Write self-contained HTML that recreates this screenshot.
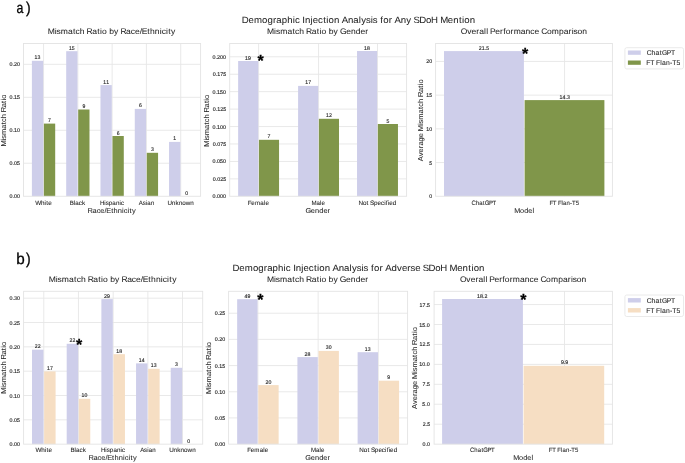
<!DOCTYPE html>
<html><head><meta charset="utf-8"><title>Demographic Injection Analysis</title>
<style>html,body{margin:0;padding:0;background:#fff;}svg{display:block;}text{font-family:"Liberation Sans",sans-serif;font-kerning:none;text-rendering:geometricPrecision}.s,.m,.l{stroke:#262626}.s{stroke-width:0.14px}.m{stroke-width:0.08px}.l{stroke-width:0.05px}</style>
</head><body>
<svg width="685" height="463" viewBox="0 0 685 463" font-family="Liberation Sans, sans-serif">
<rect width="685" height="463" fill="#fff"/>
<defs><filter id="soft" x="0" y="0" width="685" height="463" filterUnits="userSpaceOnUse"><feGaussianBlur stdDeviation="0.4"/></filter></defs>
<line x1="23.50" y1="163.26" x2="200.60" y2="163.26" stroke="#E6E6E6" stroke-width="0.9"/>
<line x1="23.50" y1="130.28" x2="200.60" y2="130.28" stroke="#E6E6E6" stroke-width="0.9"/>
<line x1="23.50" y1="97.30" x2="200.60" y2="97.30" stroke="#E6E6E6" stroke-width="0.9"/>
<line x1="23.50" y1="64.31" x2="200.60" y2="64.31" stroke="#E6E6E6" stroke-width="0.9"/>
<line x1="43.55" y1="43.50" x2="43.55" y2="196.25" stroke="#E6E6E6" stroke-width="0.9"/>
<line x1="77.84" y1="43.50" x2="77.84" y2="196.25" stroke="#E6E6E6" stroke-width="0.9"/>
<line x1="112.13" y1="43.50" x2="112.13" y2="196.25" stroke="#E6E6E6" stroke-width="0.9"/>
<line x1="146.42" y1="43.50" x2="146.42" y2="196.25" stroke="#E6E6E6" stroke-width="0.9"/>
<line x1="180.71" y1="43.50" x2="180.71" y2="196.25" stroke="#E6E6E6" stroke-width="0.9"/>
<rect x="31.90" y="60.80" width="11.30" height="135.45" fill="#CECEEA"/>
<rect x="43.90" y="123.60" width="11.30" height="72.65" fill="#80964A"/>
<rect x="66.19" y="51.20" width="11.30" height="145.05" fill="#CECEEA"/>
<rect x="78.19" y="109.50" width="11.30" height="86.75" fill="#80964A"/>
<rect x="100.48" y="85.10" width="11.30" height="111.15" fill="#CECEEA"/>
<rect x="112.48" y="136.00" width="11.30" height="60.25" fill="#80964A"/>
<rect x="134.77" y="108.90" width="11.30" height="87.35" fill="#CECEEA"/>
<rect x="146.77" y="152.80" width="11.30" height="43.45" fill="#80964A"/>
<rect x="169.06" y="141.90" width="11.30" height="54.35" fill="#CECEEA"/>
<rect x="23.50" y="43.50" width="177.10" height="152.75" fill="none" stroke="#E3E3E3" stroke-width="0.9"/>
<line x1="229.70" y1="178.86" x2="406.60" y2="178.86" stroke="#E6E6E6" stroke-width="0.9"/>
<line x1="229.70" y1="161.43" x2="406.60" y2="161.43" stroke="#E6E6E6" stroke-width="0.9"/>
<line x1="229.70" y1="143.99" x2="406.60" y2="143.99" stroke="#E6E6E6" stroke-width="0.9"/>
<line x1="229.70" y1="126.55" x2="406.60" y2="126.55" stroke="#E6E6E6" stroke-width="0.9"/>
<line x1="229.70" y1="109.11" x2="406.60" y2="109.11" stroke="#E6E6E6" stroke-width="0.9"/>
<line x1="229.70" y1="91.67" x2="406.60" y2="91.67" stroke="#E6E6E6" stroke-width="0.9"/>
<line x1="229.70" y1="74.24" x2="406.60" y2="74.24" stroke="#E6E6E6" stroke-width="0.9"/>
<line x1="229.70" y1="56.80" x2="406.60" y2="56.80" stroke="#E6E6E6" stroke-width="0.9"/>
<line x1="258.60" y1="43.50" x2="258.60" y2="196.25" stroke="#E6E6E6" stroke-width="0.9"/>
<line x1="318.55" y1="43.50" x2="318.55" y2="196.25" stroke="#E6E6E6" stroke-width="0.9"/>
<line x1="377.50" y1="43.50" x2="377.50" y2="196.25" stroke="#E6E6E6" stroke-width="0.9"/>
<rect x="238.14" y="61.00" width="20.11" height="135.25" fill="#CECEEA"/>
<rect x="258.95" y="139.80" width="20.11" height="56.45" fill="#80964A"/>
<rect x="298.09" y="85.90" width="20.11" height="110.35" fill="#CECEEA"/>
<rect x="318.90" y="118.80" width="20.11" height="77.45" fill="#80964A"/>
<rect x="357.04" y="51.00" width="20.11" height="145.25" fill="#CECEEA"/>
<rect x="377.85" y="124.00" width="20.11" height="72.25" fill="#80964A"/>
<rect x="229.70" y="43.50" width="176.90" height="152.75" fill="none" stroke="#E3E3E3" stroke-width="0.9"/>
<line x1="435.60" y1="162.55" x2="612.40" y2="162.55" stroke="#E6E6E6" stroke-width="0.9"/>
<line x1="435.60" y1="128.85" x2="612.40" y2="128.85" stroke="#E6E6E6" stroke-width="0.9"/>
<line x1="435.60" y1="95.15" x2="612.40" y2="95.15" stroke="#E6E6E6" stroke-width="0.9"/>
<line x1="435.60" y1="61.45" x2="612.40" y2="61.45" stroke="#E6E6E6" stroke-width="0.9"/>
<line x1="564.55" y1="43.50" x2="564.55" y2="196.25" stroke="#E6E6E6" stroke-width="0.9"/>
<rect x="444.00" y="51.10" width="79.90" height="145.15" fill="#CECEEA"/>
<rect x="524.60" y="100.10" width="79.80" height="96.15" fill="#80964A"/>
<rect x="435.60" y="43.50" width="176.80" height="152.75" fill="none" stroke="#E3E3E3" stroke-width="0.9"/>
<line x1="23.60" y1="419.82" x2="202.70" y2="419.82" stroke="#E6E6E6" stroke-width="0.9"/>
<line x1="23.60" y1="395.50" x2="202.70" y2="395.50" stroke="#E6E6E6" stroke-width="0.9"/>
<line x1="23.60" y1="371.17" x2="202.70" y2="371.17" stroke="#E6E6E6" stroke-width="0.9"/>
<line x1="23.60" y1="346.85" x2="202.70" y2="346.85" stroke="#E6E6E6" stroke-width="0.9"/>
<line x1="23.60" y1="322.52" x2="202.70" y2="322.52" stroke="#E6E6E6" stroke-width="0.9"/>
<line x1="23.60" y1="298.20" x2="202.70" y2="298.20" stroke="#E6E6E6" stroke-width="0.9"/>
<line x1="43.80" y1="291.30" x2="43.80" y2="444.15" stroke="#E6E6E6" stroke-width="0.9"/>
<line x1="78.48" y1="291.30" x2="78.48" y2="444.15" stroke="#E6E6E6" stroke-width="0.9"/>
<line x1="113.16" y1="291.30" x2="113.16" y2="444.15" stroke="#E6E6E6" stroke-width="0.9"/>
<line x1="147.84" y1="291.30" x2="147.84" y2="444.15" stroke="#E6E6E6" stroke-width="0.9"/>
<line x1="182.52" y1="291.30" x2="182.52" y2="444.15" stroke="#E6E6E6" stroke-width="0.9"/>
<rect x="32.01" y="349.70" width="11.44" height="94.45" fill="#CECEEA"/>
<rect x="44.15" y="371.40" width="11.44" height="72.75" fill="#F6DEC3"/>
<rect x="66.69" y="343.80" width="11.44" height="100.35" fill="#CECEEA"/>
<rect x="78.83" y="398.80" width="11.44" height="45.35" fill="#F6DEC3"/>
<rect x="101.37" y="299.10" width="11.44" height="145.05" fill="#CECEEA"/>
<rect x="113.51" y="354.20" width="11.44" height="89.95" fill="#F6DEC3"/>
<rect x="136.05" y="363.40" width="11.44" height="80.75" fill="#CECEEA"/>
<rect x="148.19" y="368.80" width="11.44" height="75.35" fill="#F6DEC3"/>
<rect x="170.73" y="367.80" width="11.44" height="76.35" fill="#CECEEA"/>
<rect x="23.60" y="291.30" width="179.10" height="152.85" fill="none" stroke="#E3E3E3" stroke-width="0.9"/>
<line x1="228.60" y1="417.93" x2="407.60" y2="417.93" stroke="#E6E6E6" stroke-width="0.9"/>
<line x1="228.60" y1="391.75" x2="407.60" y2="391.75" stroke="#E6E6E6" stroke-width="0.9"/>
<line x1="228.60" y1="365.58" x2="407.60" y2="365.58" stroke="#E6E6E6" stroke-width="0.9"/>
<line x1="228.60" y1="339.40" x2="407.60" y2="339.40" stroke="#E6E6E6" stroke-width="0.9"/>
<line x1="228.60" y1="313.23" x2="407.60" y2="313.23" stroke="#E6E6E6" stroke-width="0.9"/>
<line x1="257.90" y1="291.30" x2="257.90" y2="444.15" stroke="#E6E6E6" stroke-width="0.9"/>
<line x1="318.15" y1="291.30" x2="318.15" y2="444.15" stroke="#E6E6E6" stroke-width="0.9"/>
<line x1="378.35" y1="291.30" x2="378.35" y2="444.15" stroke="#E6E6E6" stroke-width="0.9"/>
<rect x="237.16" y="299.20" width="20.39" height="144.95" fill="#CECEEA"/>
<rect x="258.25" y="385.10" width="20.39" height="59.05" fill="#F6DEC3"/>
<rect x="297.41" y="357.10" width="20.39" height="87.05" fill="#CECEEA"/>
<rect x="318.50" y="350.90" width="20.39" height="93.25" fill="#F6DEC3"/>
<rect x="357.61" y="352.20" width="20.39" height="91.95" fill="#CECEEA"/>
<rect x="378.70" y="380.70" width="20.39" height="63.45" fill="#F6DEC3"/>
<rect x="228.60" y="291.30" width="179.00" height="152.85" fill="none" stroke="#E3E3E3" stroke-width="0.9"/>
<line x1="434.10" y1="424.21" x2="612.40" y2="424.21" stroke="#E6E6E6" stroke-width="0.9"/>
<line x1="434.10" y1="404.26" x2="612.40" y2="404.26" stroke="#E6E6E6" stroke-width="0.9"/>
<line x1="434.10" y1="384.32" x2="612.40" y2="384.32" stroke="#E6E6E6" stroke-width="0.9"/>
<line x1="434.10" y1="364.38" x2="612.40" y2="364.38" stroke="#E6E6E6" stroke-width="0.9"/>
<line x1="434.10" y1="344.44" x2="612.40" y2="344.44" stroke="#E6E6E6" stroke-width="0.9"/>
<line x1="434.10" y1="324.50" x2="612.40" y2="324.50" stroke="#E6E6E6" stroke-width="0.9"/>
<line x1="434.10" y1="304.55" x2="612.40" y2="304.55" stroke="#E6E6E6" stroke-width="0.9"/>
<line x1="482.80" y1="291.30" x2="482.80" y2="444.15" stroke="#E6E6E6" stroke-width="0.9"/>
<line x1="564.50" y1="291.30" x2="564.50" y2="444.15" stroke="#E6E6E6" stroke-width="0.9"/>
<rect x="442.10" y="299.00" width="80.80" height="145.15" fill="#CECEEA"/>
<rect x="523.60" y="365.80" width="80.60" height="78.35" fill="#F6DEC3"/>
<rect x="434.10" y="291.30" width="178.30" height="152.85" fill="none" stroke="#E3E3E3" stroke-width="0.9"/>
<rect x="624.9" y="47.70" width="58.6" height="21.20" rx="1.8" fill="#fff" stroke="#E4E4E4" stroke-width="0.8"/>
<rect x="627.90" y="50.50" width="12.90" height="4.30" fill="#CECEEA"/>
<rect x="627.90" y="60.50" width="12.90" height="4.30" fill="#80964A"/>
<rect x="624.9" y="295.00" width="58.6" height="21.50" rx="1.8" fill="#fff" stroke="#E4E4E4" stroke-width="0.8"/>
<rect x="627.90" y="298.10" width="12.90" height="4.40" fill="#CECEEA"/>
<rect x="627.90" y="308.10" width="12.90" height="4.40" fill="#F6DEC3"/>
<g filter="url(#soft)">
<text transform="translate(0,59.00) scale(0.953,1)" x="36.25 39.38" y="0" font-size="5.38" fill="#262626" class="s">13</text>
<text transform="translate(0,122.00) scale(0.950,1)" x="50.67" y="0" font-size="5.38" fill="#262626" class="s">7</text>
<text transform="translate(0,50.00) scale(0.950,1)" x="72.50 75.64" y="0" font-size="5.38" fill="#262626" class="s">15</text>
<text transform="translate(0,108.00) scale(0.951,1)" x="86.64" y="0" font-size="5.38" fill="#262626" class="s">9</text>
<text transform="translate(0,84.00) scale(0.950,1)" x="108.60 111.75" y="0" font-size="5.38" fill="#262626" class="s">11</text>
<text transform="translate(0,135.00) scale(0.953,1)" x="122.40" y="0" font-size="5.38" fill="#262626" class="s">6</text>
<text transform="translate(0,107.00) scale(0.953,1)" x="145.77" y="0" font-size="5.38" fill="#262626" class="s">6</text>
<text transform="translate(0,151.00) scale(0.950,1)" x="158.96" y="0" font-size="5.38" fill="#262626" class="s">3</text>
<text transform="translate(0,140.00) scale(0.950,1)" x="182.37" y="0" font-size="5.38" fill="#262626" class="s">1</text>
<text transform="translate(0,195.00) scale(0.950,1)" x="195.04" y="0" font-size="5.38" fill="#262626" class="s">0</text>
<text transform="translate(0,198.00) scale(0.980,1)" x="9.67 12.74 14.29 17.38" y="0" font-size="5.44" fill="#262626" class="s">0.00</text>
<text transform="translate(0,165.00) scale(0.971,1)" x="9.86 12.95 14.53 17.64" y="0" font-size="5.44" fill="#262626" class="s">0.05</text>
<text transform="translate(0,132.00) scale(0.980,1)" x="9.67 12.74 14.29 17.38" y="0" font-size="5.44" fill="#262626" class="s">0.10</text>
<text transform="translate(0,99.00) scale(0.971,1)" x="9.86 12.95 14.53 17.64" y="0" font-size="5.44" fill="#262626" class="s">0.15</text>
<text transform="translate(0,66.00) scale(0.980,1)" x="9.67 12.74 14.29 17.38" y="0" font-size="5.44" fill="#262626" class="s">0.20</text>
<text transform="translate(0,205.00) scale(1.011,1)" x="34.79 40.54 44.14 45.83 47.77" y="0" font-size="6.29" fill="#262626" class="m">White</text>
<text transform="translate(0,205.00) scale(0.990,1)" x="70.50 74.65 76.14 79.63 82.86" y="0" font-size="6.29" fill="#262626" class="m">Black</text>
<text transform="translate(0,205.00) scale(0.989,1)" x="101.01 105.52 106.93 110.05 113.62 117.18 120.83 122.33" y="0" font-size="6.29" fill="#262626" class="m">Hispanic</text>
<text transform="translate(0,205.00) scale(0.973,1)" x="142.61 146.63 149.82 151.35 154.97" y="0" font-size="6.29" fill="#262626" class="m">Asian</text>
<text transform="translate(0,205.00) scale(0.998,1)" x="167.77 172.15 175.77 179.02 182.55 186.08 190.71" y="0" font-size="6.29" fill="#262626" class="m">Unknown</text>
<text transform="translate(0,34.00) scale(1.061,1)" x="44.97 51.51 53.25 57.26 64.06 68.78 71.26 75.27 79.80 81.63 86.98 91.70 94.32 96.16 100.61 102.90 107.52 111.67 113.51 118.86 123.25 127.19 131.72 133.62 138.85 141.41 145.94 150.55 152.40 156.48 158.65 161.28" y="0" font-size="8.05" fill="#262626" class="l">Mismatch Ratio by Race/Ethnicity</text>
<text transform="translate(0,213.00) scale(1.057,1)" x="82.89 87.59 91.44 94.91 98.89 100.56 105.16 107.40 111.39 115.44 117.06 120.65 122.56 124.87" y="0" font-size="7.05" fill="#262626" class="l">Race/Ethnicity</text>
<text transform="rotate(-90) translate(0,5.80) scale(1.057,1)" x="-138.60 -132.83 -131.29 -127.75 -121.75 -117.59 -115.40 -111.86 -107.87 -106.24 -101.52 -97.36 -95.05 -93.42" y="0" font-size="7.08" fill="#262626" class="l">Mismatch Ratio</text>
<text transform="translate(0,60.00) scale(0.965,1)" x="253.97 257.07" y="0" font-size="5.38" fill="#262626" class="s">19</text>
<text transform="translate(0,138.00) scale(0.950,1)" x="281.67" y="0" font-size="5.38" fill="#262626" class="s">7</text>
<text transform="translate(0,84.00) scale(0.955,1)" x="319.62 322.75" y="0" font-size="5.38" fill="#262626" class="s">17</text>
<text transform="translate(0,117.00) scale(0.950,1)" x="343.17 346.32" y="0" font-size="5.38" fill="#262626" class="s">12</text>
<text transform="translate(0,50.00) scale(0.963,1)" x="377.95 381.05" y="0" font-size="5.38" fill="#262626" class="s">18</text>
<text transform="translate(0,123.00) scale(0.950,1)" x="406.85" y="0" font-size="5.38" fill="#262626" class="s">5</text>
<text transform="translate(0,198.00) scale(0.984,1)" x="215.95 219.01 220.56 223.63 226.70" y="0" font-size="5.44" fill="#262626" class="s">0.000</text>
<text transform="translate(0,181.00) scale(0.978,1)" x="217.47 220.55 222.11 225.20 228.29" y="0" font-size="5.44" fill="#262626" class="s">0.025</text>
<text transform="translate(0,163.00) scale(0.984,1)" x="215.95 219.01 220.56 223.63 226.70" y="0" font-size="5.44" fill="#262626" class="s">0.050</text>
<text transform="translate(0,146.00) scale(0.978,1)" x="217.47 220.55 222.11 225.20 228.29" y="0" font-size="5.44" fill="#262626" class="s">0.075</text>
<text transform="translate(0,129.00) scale(0.984,1)" x="215.95 219.01 220.56 223.63 226.70" y="0" font-size="5.44" fill="#262626" class="s">0.100</text>
<text transform="translate(0,111.00) scale(0.978,1)" x="217.47 220.55 222.11 225.20 228.29" y="0" font-size="5.44" fill="#262626" class="s">0.125</text>
<text transform="translate(0,94.00) scale(0.984,1)" x="215.95 219.01 220.56 223.63 226.70" y="0" font-size="5.44" fill="#262626" class="s">0.150</text>
<text transform="translate(0,76.00) scale(0.978,1)" x="217.47 220.55 222.11 225.20 228.29" y="0" font-size="5.44" fill="#262626" class="s">0.175</text>
<text transform="translate(0,59.00) scale(0.984,1)" x="215.95 219.01 220.56 223.63 226.70" y="0" font-size="5.44" fill="#262626" class="s">0.200</text>
<text transform="translate(0,205.00) scale(0.986,1)" x="251.36 254.95 258.63 264.05 267.65 269.16" y="0" font-size="6.29" fill="#262626" class="m">Female</text>
<text transform="translate(0,205.00) scale(0.976,1)" x="319.13 324.27 327.90 329.43" y="0" font-size="6.29" fill="#262626" class="m">Male</text>
<text transform="translate(0,205.00) scale(1.003,1)" x="357.45 361.81 365.51 367.51 368.97 372.89 376.41 379.87 383.08 384.68 386.63 388.09 391.61" y="0" font-size="6.29" fill="#262626" class="m">Not Specified</text>
<text transform="translate(0,34.00) scale(1.060,1)" x="252.01 258.56 260.31 264.33 271.13 275.86 278.34 282.36 286.89 288.74 294.09 298.82 301.45 303.29 307.75 310.04 314.67 318.82 320.73 326.61 331.09 335.63 340.12 344.70" y="0" font-size="8.05" fill="#262626" class="l">Mismatch Ratio by Gender</text>
<text transform="translate(0,213.00) scale(1.048,1)" x="291.43 296.63 300.59 304.61 308.58 312.62" y="0" font-size="7.05" fill="#262626" class="l">Gender</text>
<text transform="rotate(-90) translate(0,209.20) scale(1.057,1)" x="-138.79 -133.02 -131.48 -127.94 -121.94 -117.78 -115.59 -112.05 -108.06 -106.43 -101.71 -97.55 -95.24 -93.61" y="0" font-size="7.08" fill="#262626" class="l">Mismatch Ratio</text>
<text transform="translate(257.47,65.93) scale(1.0,1)" font-size="16.0" font-weight="bold" fill="#000" stroke="#000" stroke-width="0.25">*</text>
<text transform="translate(0,50.00) scale(0.974,1)" x="491.65 494.73 497.78 499.33" y="0" font-size="5.38" fill="#262626" class="s">21.5</text>
<text transform="translate(0,99.00) scale(0.975,1)" x="573.84 576.91 579.95 581.51" y="0" font-size="5.38" fill="#262626" class="s">14.3</text>
<text transform="translate(0,198.00) scale(0.950,1)" x="451.76" y="0" font-size="5.44" fill="#262626" class="s">0</text>
<text transform="translate(0,165.00) scale(0.950,1)" x="451.86" y="0" font-size="5.44" fill="#262626" class="s">5</text>
<text transform="translate(0,131.00) scale(0.961,1)" x="443.55 446.70" y="0" font-size="5.44" fill="#262626" class="s">10</text>
<text transform="translate(0,97.00) scale(0.950,1)" x="448.68 451.86" y="0" font-size="5.44" fill="#262626" class="s">15</text>
<text transform="translate(0,63.00) scale(0.968,1)" x="440.34 443.47" y="0" font-size="5.44" fill="#262626" class="s">20</text>
<text transform="translate(0,205.00) scale(0.950,1)" x="496.24 500.72 504.43 508.29 510.19 514.64 518.42" y="0" font-size="6.29" fill="#262626" class="m">ChatGPT</text>
<text transform="translate(0,205.00) scale(0.950,1)" x="578.37 581.89 585.70 587.31 591.07 592.67 596.37 600.03 602.05 605.93" y="0" font-size="6.29" fill="#262626" class="m">FT Flan-T5</text>
<text transform="translate(0,34.00) scale(1.054,1)" x="437.14 443.23 447.36 451.96 454.75 459.31 461.31 463.23 464.99 469.83 474.42 477.40 479.75 484.34 487.32 494.16 498.65 503.15 507.12 511.60 513.48 518.87 523.47 530.39 534.89 539.48 542.41 544.17 548.03 552.52" y="0" font-size="8.05" fill="#262626" class="l">Overall Performance Comparison</text>
<text transform="translate(0,213.00) scale(1.030,1)" x="499.17 504.90 508.93 512.96 517.02" y="0" font-size="7.05" fill="#262626" class="l">Model</text>
<text transform="rotate(-90) translate(0,423.00) scale(1.057,1)" x="-152.45 -147.83 -144.21 -140.18 -137.73 -133.79 -129.84 -125.91 -124.14 -118.38 -116.84 -113.29 -107.30 -103.14 -100.95 -97.41 -93.41 -91.79 -87.07 -82.91 -80.59 -78.96" y="0" font-size="7.08" fill="#262626" class="l">Average Mismatch Ratio</text>
<text transform="translate(522.02,58.88) scale(1.0,1)" font-size="16.0" font-weight="bold" fill="#000" stroke="#000" stroke-width="0.25">*</text>
<text transform="translate(0,348.00) scale(0.950,1)" x="36.71 39.86" y="0" font-size="5.38" fill="#262626" class="s">22</text>
<text transform="translate(0,370.00) scale(0.955,1)" x="49.11 52.24" y="0" font-size="5.38" fill="#262626" class="s">17</text>
<text transform="translate(0,342.00) scale(0.950,1)" x="73.22 76.37" y="0" font-size="5.38" fill="#262626" class="s">22</text>
<text transform="translate(0,397.00) scale(0.961,1)" x="84.85 87.96" y="0" font-size="5.38" fill="#262626" class="s">10</text>
<text transform="translate(0,298.00) scale(0.972,1)" x="107.11 110.18" y="0" font-size="5.38" fill="#262626" class="s">29</text>
<text transform="translate(0,353.00) scale(0.963,1)" x="120.63 123.73" y="0" font-size="5.38" fill="#262626" class="s">18</text>
<text transform="translate(0,362.00) scale(0.960,1)" x="144.45 147.56" y="0" font-size="5.38" fill="#262626" class="s">14</text>
<text transform="translate(0,367.00) scale(0.953,1)" x="158.29 161.43" y="0" font-size="5.38" fill="#262626" class="s">13</text>
<text transform="translate(0,366.00) scale(0.950,1)" x="184.25" y="0" font-size="5.38" fill="#262626" class="s">3</text>
<text transform="translate(0,443.00) scale(0.950,1)" x="197.02" y="0" font-size="5.38" fill="#262626" class="s">0</text>
<text transform="translate(0,446.00) scale(0.980,1)" x="9.67 12.74 14.29 17.38" y="0" font-size="5.44" fill="#262626" class="s">0.00</text>
<text transform="translate(0,422.00) scale(0.971,1)" x="9.86 12.95 14.53 17.64" y="0" font-size="5.44" fill="#262626" class="s">0.05</text>
<text transform="translate(0,398.00) scale(0.980,1)" x="9.67 12.74 14.29 17.38" y="0" font-size="5.44" fill="#262626" class="s">0.10</text>
<text transform="translate(0,373.00) scale(0.971,1)" x="9.86 12.95 14.53 17.64" y="0" font-size="5.44" fill="#262626" class="s">0.15</text>
<text transform="translate(0,349.00) scale(0.980,1)" x="9.67 12.74 14.29 17.38" y="0" font-size="5.44" fill="#262626" class="s">0.20</text>
<text transform="translate(0,325.00) scale(0.971,1)" x="9.86 12.95 14.53 17.64" y="0" font-size="5.44" fill="#262626" class="s">0.25</text>
<text transform="translate(0,300.00) scale(0.980,1)" x="9.67 12.74 14.29 17.38" y="0" font-size="5.44" fill="#262626" class="s">0.30</text>
<text transform="translate(0,452.00) scale(1.011,1)" x="35.04 40.79 44.38 46.08 48.02" y="0" font-size="6.29" fill="#262626" class="m">White</text>
<text transform="translate(0,452.00) scale(0.990,1)" x="71.15 75.29 76.79 80.28 83.50" y="0" font-size="6.29" fill="#262626" class="m">Black</text>
<text transform="translate(0,452.00) scale(0.989,1)" x="102.05 106.56 107.97 111.10 114.66 118.22 121.88 123.37" y="0" font-size="6.29" fill="#262626" class="m">Hispanic</text>
<text transform="translate(0,452.00) scale(0.973,1)" x="144.06 148.09 151.28 152.81 156.43" y="0" font-size="6.29" fill="#262626" class="m">Asian</text>
<text transform="translate(0,452.00) scale(0.998,1)" x="169.58 173.97 177.58 180.84 184.36 187.89 192.52" y="0" font-size="6.29" fill="#262626" class="m">Unknown</text>
<text transform="translate(0,282.00) scale(1.061,1)" x="45.96 52.50 54.24 58.25 65.05 69.77 72.25 76.26 80.78 82.62 87.97 92.69 95.31 97.15 101.60 103.89 108.51 112.66 114.50 119.85 124.23 128.18 132.71 134.61 139.84 142.40 146.93 151.54 153.39 157.47 159.64 162.27" y="0" font-size="8.05" fill="#262626" class="l">Mismatch Ratio by Race/Ethnicity</text>
<text transform="translate(0,460.00) scale(1.057,1)" x="83.74 88.44 92.29 95.76 99.74 101.42 106.01 108.26 112.24 116.29 117.91 121.50 123.41 125.72" y="0" font-size="7.05" fill="#262626" class="l">Race/Ethnicity</text>
<text transform="rotate(-90) translate(0,5.80) scale(1.057,1)" x="-372.56 -366.80 -365.26 -361.71 -355.72 -351.55 -349.36 -345.82 -341.83 -340.20 -335.48 -331.32 -329.01 -327.38" y="0" font-size="7.08" fill="#262626" class="l">Mismatch Ratio</text>
<text transform="translate(76.07,350.18) scale(1.0,1)" font-size="16.0" font-weight="bold" fill="#000" stroke="#000" stroke-width="0.25">*</text>
<text transform="translate(0,298.00) scale(0.967,1)" x="252.75 255.84" y="0" font-size="5.38" fill="#262626" class="s">49</text>
<text transform="translate(0,384.00) scale(0.968,1)" x="274.35 277.44" y="0" font-size="5.38" fill="#262626" class="s">20</text>
<text transform="translate(0,356.00) scale(0.970,1)" x="314.00 317.08" y="0" font-size="5.38" fill="#262626" class="s">28</text>
<text transform="translate(0,349.00) scale(0.954,1)" x="341.53 344.66" y="0" font-size="5.38" fill="#262626" class="s">30</text>
<text transform="translate(0,351.00) scale(0.953,1)" x="382.64 385.78" y="0" font-size="5.38" fill="#262626" class="s">13</text>
<text transform="translate(0,379.00) scale(0.951,1)" x="407.27" y="0" font-size="5.38" fill="#262626" class="s">9</text>
<text transform="translate(0,446.00) scale(0.980,1)" x="219.14 222.21 223.77 226.85" y="0" font-size="5.44" fill="#262626" class="s">0.00</text>
<text transform="translate(0,420.00) scale(0.971,1)" x="221.13 224.22 225.79 228.91" y="0" font-size="5.44" fill="#262626" class="s">0.05</text>
<text transform="translate(0,394.00) scale(0.980,1)" x="219.14 222.21 223.77 226.85" y="0" font-size="5.44" fill="#262626" class="s">0.10</text>
<text transform="translate(0,368.00) scale(0.971,1)" x="221.13 224.22 225.79 228.91" y="0" font-size="5.44" fill="#262626" class="s">0.15</text>
<text transform="translate(0,341.00) scale(0.980,1)" x="219.14 222.21 223.77 226.85" y="0" font-size="5.44" fill="#262626" class="s">0.20</text>
<text transform="translate(0,315.00) scale(0.971,1)" x="221.13 224.22 225.79 228.91" y="0" font-size="5.44" fill="#262626" class="s">0.25</text>
<text transform="translate(0,452.00) scale(0.986,1)" x="250.65 254.24 257.92 263.34 266.94 268.45" y="0" font-size="6.29" fill="#262626" class="m">Female</text>
<text transform="translate(0,452.00) scale(0.976,1)" x="318.72 323.86 327.49 329.02" y="0" font-size="6.29" fill="#262626" class="m">Male</text>
<text transform="translate(0,452.00) scale(1.003,1)" x="358.30 362.65 366.36 368.36 369.82 373.74 377.26 380.72 383.92 385.52 387.47 388.94 392.46" y="0" font-size="6.29" fill="#262626" class="m">Not Specified</text>
<text transform="translate(0,282.00) scale(1.060,1)" x="251.92 258.47 260.21 264.23 271.04 275.76 278.25 282.27 286.80 288.64 294.00 298.72 301.35 303.20 307.65 309.95 314.57 318.73 320.63 326.51 330.99 335.54 340.02 344.60" y="0" font-size="8.05" fill="#262626" class="l">Mismatch Ratio by Gender</text>
<text transform="translate(0,460.00) scale(1.048,1)" x="291.39 296.58 300.54 304.57 308.53 312.58" y="0" font-size="7.05" fill="#262626" class="l">Gender</text>
<text transform="rotate(-90) translate(0,211.00) scale(1.057,1)" x="-372.66 -366.89 -365.35 -361.80 -355.81 -351.65 -349.46 -345.92 -341.93 -340.30 -335.58 -331.42 -329.11 -327.48" y="0" font-size="7.08" fill="#262626" class="l">Mismatch Ratio</text>
<text transform="translate(257.37,304.93) scale(1.0,1)" font-size="16.0" font-weight="bold" fill="#000" stroke="#000" stroke-width="0.25">*</text>
<text transform="translate(0,298.00) scale(0.968,1)" x="492.90 495.98 499.05 500.62" y="0" font-size="5.38" fill="#262626" class="s">18.2</text>
<text transform="translate(0,364.00) scale(0.983,1)" x="570.59 573.62 575.15" y="0" font-size="5.38" fill="#262626" class="s">9.9</text>
<text transform="translate(0,446.00) scale(0.971,1)" x="435.08 438.17 439.75" y="0" font-size="5.44" fill="#262626" class="s">0.0</text>
<text transform="translate(0,426.00) scale(0.963,1)" x="439.03 442.14 443.74" y="0" font-size="5.44" fill="#262626" class="s">2.5</text>
<text transform="translate(0,406.00) scale(0.964,1)" x="438.14 441.25 442.84" y="0" font-size="5.44" fill="#262626" class="s">5.0</text>
<text transform="translate(0,386.00) scale(0.957,1)" x="441.42 444.54 446.15" y="0" font-size="5.44" fill="#262626" class="s">7.5</text>
<text transform="translate(0,366.00) scale(0.978,1)" x="428.70 431.79 434.86 436.42" y="0" font-size="5.44" fill="#262626" class="s">10.0</text>
<text transform="translate(0,346.00) scale(0.970,1)" x="432.56 435.67 438.76 440.34" y="0" font-size="5.44" fill="#262626" class="s">12.5</text>
<text transform="translate(0,327.00) scale(0.978,1)" x="428.70 431.79 434.86 436.42" y="0" font-size="5.44" fill="#262626" class="s">15.0</text>
<text transform="translate(0,307.00) scale(0.970,1)" x="432.56 435.67 438.76 440.34" y="0" font-size="5.44" fill="#262626" class="s">17.5</text>
<text transform="translate(0,452.00) scale(0.950,1)" x="494.66 499.15 502.85 506.72 508.61 513.06 516.85" y="0" font-size="6.29" fill="#262626" class="m">ChatGPT</text>
<text transform="translate(0,452.00) scale(0.950,1)" x="577.74 581.26 585.07 586.68 590.44 592.04 595.74 599.40 601.42 605.30" y="0" font-size="6.29" fill="#262626" class="m">FT Flan-T5</text>
<text transform="translate(0,282.00) scale(1.054,1)" x="436.38 442.47 446.60 451.20 453.99 458.55 460.55 462.47 464.23 469.07 473.67 476.64 478.99 483.58 486.56 493.40 497.89 502.39 506.36 510.85 512.72 518.11 522.72 529.63 534.13 538.72 541.65 543.41 547.27 551.76" y="0" font-size="8.05" fill="#262626" class="l">Overall Performance Comparison</text>
<text transform="translate(0,460.00) scale(1.030,1)" x="498.20 503.93 507.96 511.99 516.05" y="0" font-size="7.05" fill="#262626" class="l">Model</text>
<text transform="rotate(-90) translate(0,416.50) scale(1.057,1)" x="-386.96 -382.34 -378.72 -374.69 -372.25 -368.30 -364.35 -360.42 -358.66 -352.89 -351.35 -347.80 -341.81 -337.65 -335.46 -331.92 -327.93 -326.30 -321.58 -317.42 -315.11 -313.48" y="0" font-size="7.08" fill="#262626" class="l">Average Mismatch Ratio</text>
<text transform="translate(520.37,304.83) scale(1.0,1)" font-size="16.0" font-weight="bold" fill="#000" stroke="#000" stroke-width="0.25">*</text>
<text transform="translate(0,23.00) scale(1.058,1)" x="228.42 234.81 240.00 247.71 252.78 258.05 261.19 266.26 271.42 276.65 278.74 283.28 285.77 288.28 293.51 295.62 300.61 305.45 308.42 310.52 315.58 320.72 323.02 328.88 333.94 339.09 341.36 345.88 350.39 352.37 356.79 359.52 362.17 367.34 370.56 372.85 378.72 383.95 388.66 390.76 396.22 402.59 407.38 413.75 416.02 423.29 428.37 433.81 436.78 438.88 443.94" y="0" font-size="9.11" fill="#262626" class="l">Demographic Injection Analysis for Any SDoH Mention</text>
<text transform="translate(0,271.00) scale(1.057,1)" x="219.95 226.34 231.54 239.25 244.32 249.59 252.74 257.81 262.97 268.20 270.30 274.84 277.33 279.84 285.07 287.18 292.17 297.02 300.00 302.09 307.16 312.30 314.60 320.46 325.53 330.68 332.95 337.47 341.99 343.97 348.39 351.12 353.77 358.95 362.16 364.47 370.33 375.58 380.23 385.42 388.45 392.82 397.88 399.98 405.44 411.82 416.61 422.98 425.26 432.53 437.61 443.05 446.03 448.12 453.19" y="0" font-size="9.11" fill="#262626" class="l">Demographic Injection Analysis for Adverse SDoH Mention</text>
<text transform="translate(0,55.00) scale(0.985,1)" x="656.51 661.47 665.59 669.86 671.99 676.92 681.12" y="0" font-size="6.89" fill="#262626" class="m">ChatGPT</text>
<text transform="translate(0,65.00) scale(0.984,1)" x="656.83 660.75 664.96 666.77 670.92 672.72 676.83 680.89 683.14 687.45" y="0" font-size="6.89" fill="#262626" class="m">FT Flan-T5</text>
<text transform="translate(0,303.00) scale(0.985,1)" x="656.51 661.47 665.59 669.86 671.99 676.92 681.12" y="0" font-size="6.89" fill="#262626" class="m">ChatGPT</text>
<text transform="translate(0,313.00) scale(0.984,1)" x="656.83 660.75 664.96 666.77 670.92 672.72 676.83 680.89 683.14 687.45" y="0" font-size="6.89" fill="#262626" class="m">FT Flan-T5</text>
<text transform="translate(16.57,13.0) scale(0.8,1)" font-size="15.5" fill="#000" style="stroke:#000;stroke-width:0.3px">a</text>
<text transform="translate(25.92,13.0) scale(0.9,1)" font-size="15.5" fill="#000" style="stroke:#000;stroke-width:0.3px">)</text>
<text transform="translate(16.22,264.0) scale(0.98,1)" font-size="15.5" fill="#000" style="stroke:#000;stroke-width:0.3px">b</text>
<text transform="translate(25.92,264.0) scale(0.9,1)" font-size="15.5" fill="#000" style="stroke:#000;stroke-width:0.3px">)</text>
</g>
</svg>
</body></html>
